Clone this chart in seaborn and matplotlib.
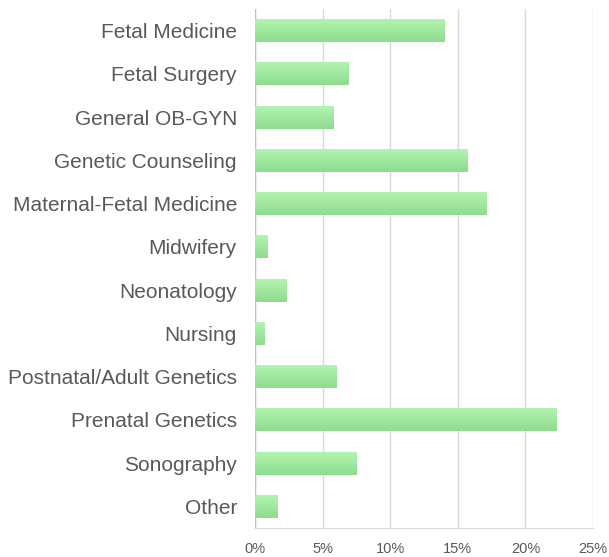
import matplotlib
matplotlib.use("Agg")
import matplotlib.pyplot as plt
import matplotlib.ticker as mticker
import seaborn as sns
import numpy as np
import pandas as pd

specialties = ['Fetal Medicine', 'Fetal Surgery', 'General OB-GYN', 'Genetic Counseling',
               'Maternal-Fetal Medicine', 'Midwifery', 'Neonatology', 'Nursing',
               'Postnatal/Adult Genetics', 'Prenatal Genetics', 'Sonography', 'Other']
share = [14.05, 6.9, 5.8, 15.7, 17.1, 0.9, 2.3, 0.7, 6.0, 22.3, 7.5, 1.7]

df = pd.DataFrame({'Specialty': specialties, 'Share': share})

sns.set_style("white")
plt.rcParams['font.family'] = ['Liberation Sans', 'DejaVu Sans']

fig = plt.figure(figsize=(6.09, 5.57), dpi=100)
ax = fig.add_axes([0.4187, 0.052, 0.555, 0.932])

sns.barplot(data=df, x='Share', y='Specialty', color='#a0e6a0', width=0.53,
            ax=ax, zorder=2)

# vertical gradient inside each bar (light top, darker bottom)
grad = np.linspace(0, 1, 64).reshape(-1, 1)
cmap = matplotlib.colors.LinearSegmentedColormap.from_list('g', ['#b2f4b2', '#8fdb8f'])
for p in ax.patches:
    x0, y0 = p.get_x(), p.get_y()
    w, h = p.get_width(), p.get_height()
    im = ax.imshow(grad, cmap=cmap, aspect='auto', extent=[x0, x0 + w, y0 + h, y0],
                   zorder=3, interpolation='bilinear')
    im.set_clip_path(p)
    p.set_edgecolor('none')

ax.set_xlim(0, 25)
ax.set_ylim(11.5, -0.5)
ax.set_xticks([0, 5, 10, 15, 20, 25])
ax.xaxis.set_major_formatter(mticker.FuncFormatter(lambda v, pos: '{:d}%'.format(int(v))))
ax.grid(axis='x', color='#d9d9d9', linewidth=1, zorder=0)
ax.grid(axis='y', visible=False)
for s in ['top', 'right', 'left']:
    ax.spines[s].set_visible(False)
ax.spines['bottom'].set_color('#d9d9d9')
ax.axvline(0, color='#bfbfbf', linewidth=1, zorder=1)

ax.set_xlabel('')
ax.set_ylabel('')
ax.tick_params(axis='y', length=0, labelsize=15, labelcolor='#595959', pad=13)
ax.tick_params(axis='x', length=0, labelsize=10.5, labelcolor='#595959', pad=10)

fig.savefig('out.png', dpi=100)
